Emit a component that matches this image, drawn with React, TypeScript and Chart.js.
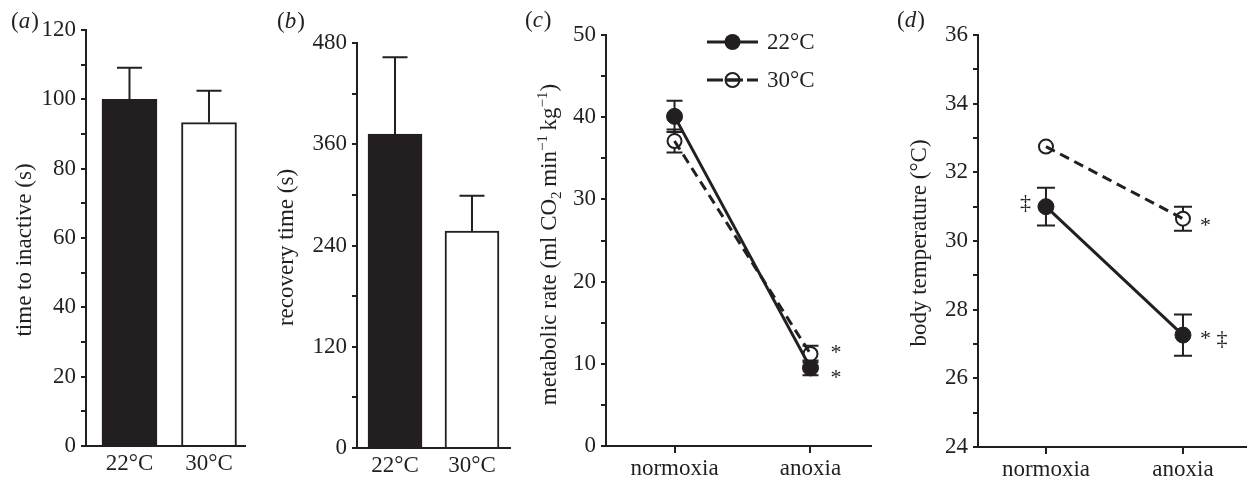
import React, { useEffect, useRef } from 'react';
import { Chart, registerables } from 'chart.js';

Chart.register(...registerables);

const FONT = "'Liberation Serif', 'Times New Roman', Times, serif";
const INK = '#231f20';
const FS = 23;

// ---------------- data ----------------
const temperatureLabels = ['22°C', '30°C'];
const conditionLabels = ['normoxia', 'anoxia'];
const seriesNames = ['22°C', '30°C'];

// (a) time to inactive (s)
const timeToInactive = [100, 93.3];
const timeToInactiveSE = [9.1, 9.2];
// (b) recovery time (s)
const recoveryTime = [372, 257];
const recoveryTimeSE = [91, 42];
// (c) metabolic rate
const metabolic22 = [40.1, 9.5];
const metabolic22SE = [1.9, 0.9];
const metabolic30 = [37.1, 11.2];
const metabolic30SE = [1.4, 1.0];
const metabolic22Marks = ['', '*'];
const metabolic30Marks = ['', '*'];
// (d) body temperature
const bodyTemp22 = [31.0, 27.26];
const bodyTemp22SE = [0.55, 0.6];
const bodyTemp30 = [32.75, 30.65];
const bodyTemp30SE = [0, 0.35];
const bodyTemp22MarksLeft = ['‡', ''];
const bodyTemp22Marks = ['', '* ‡'];
const bodyTemp30Marks = ['', '*'];

// y tick labels (minor ticks in between)
const yTicksA = [0, 20, 40, 60, 80, 100, 120];
const yTicksB = [0, 120, 240, 360, 480];
const yTicksC = [0, 10, 20, 30, 40, 50];
const yTicksD = [24, 26, 28, 30, 32, 34, 36];

// ---------------- helpers ----------------
type Seg = { t: string; k?: 'sub' | 'sup' };
const toXY = (vals: number[]) => vals.map((y, x) => ({ x, y }));

function segFont(s: Seg) {
  return `${s.k ? 15 : FS}px ${FONT}`;
}

function drawRotated(ctx: CanvasRenderingContext2D, segs: Seg[], cx: number, cy: number) {
  let total = 0;
  for (const s of segs) {
    ctx.font = segFont(s);
    total += ctx.measureText(s.t).width;
  }
  ctx.save();
  ctx.translate(cx, cy);
  ctx.rotate(-Math.PI / 2);
  ctx.textAlign = 'left';
  ctx.textBaseline = 'alphabetic';
  ctx.fillStyle = INK;
  let x = -total / 2;
  for (const s of segs) {
    ctx.font = segFont(s);
    const dy = s.k === 'sub' ? 5 : s.k === 'sup' ? -9 : 0;
    ctx.fillText(s.t, x, dy);
    x += ctx.measureText(s.t).width;
  }
  ctx.restore();
}

function errorPlugin(p: any) {
  return {
    id: 'errorBars',
    beforeDatasetsDraw(chart: any) {
      const ctx = chart.ctx;
      const ys = chart.scales.y;
      ctx.save();
      ctx.strokeStyle = INK;
      ctx.lineWidth = 2;
      for (const s of p.errors) {
        const meta = chart.getDatasetMeta(s.dataset);
        meta.data.forEach((el: any, i: number) => {
          const err = s.errors[i];
          if (!err) return;
          const v = s.values[i];
          const top = ys.getPixelForValue(v + err);
          const bot = ys.getPixelForValue(s.upOnly ? v : v - err);
          const h = s.cap / 2;
          ctx.beginPath();
          ctx.moveTo(el.x, top);
          ctx.lineTo(el.x, bot);
          ctx.moveTo(el.x - h, top);
          ctx.lineTo(el.x + h, top);
          if (!s.upOnly) {
            ctx.moveTo(el.x - h, bot);
            ctx.lineTo(el.x + h, bot);
          }
          ctx.stroke();
        });
      }
      ctx.restore();
    },
  };
}

function decorPlugin(p: any) {
  return {
    id: 'decor',
    afterDraw(chart: any) {
      const ctx = chart.ctx as CanvasRenderingContext2D;
      const a = chart.chartArea;
      ctx.save();
      ctx.fillStyle = INK;
      // panel letter
      ctx.textAlign = 'left';
      ctx.textBaseline = 'alphabetic';
      let lx = p.letterX;
      const parts: [string, boolean][] = [['(', false], [p.letter, true], [')', false]];
      for (const [t, it] of parts) {
        ctx.font = `${it ? 'italic ' : ''}${FS}px ${FONT}`;
        ctx.fillText(t, lx, p.letterY);
        lx += ctx.measureText(t).width + (it ? 1 : 0);
      }
      // y title
      drawRotated(ctx, p.title, a.left + p.titleDx, (a.top + a.bottom) / 2 + p.titleDy);
      // significance marks
      ctx.font = `22px ${FONT}`;
      for (const m of p.marks) {
        const meta = chart.getDatasetMeta(m.dataset);
        meta.data.forEach((el: any, i: number) => {
          const t = m.marks[i];
          if (!t) return;
          ctx.textAlign = m.align;
          ctx.textBaseline = 'alphabetic';
          ctx.fillText(t, el.x + m.dx, el.y + m.dy);
        });
      }
      // legend
      if (p.legend) {
        p.legend.forEach((it: any, i: number) => {
          const y = a.top + p.legend.y0 + i * p.legend.gap;
          const x0 = a.left + p.legend.x0;
          const x1 = x0 + p.legend.len;
          ctx.save();
          ctx.strokeStyle = INK;
          ctx.lineWidth = 3;
          ctx.setLineDash(it.dash);
          ctx.beginPath();
          ctx.moveTo(x0, y);
          ctx.lineTo(x1, y);
          ctx.stroke();
          ctx.setLineDash([]);
          ctx.beginPath();
          const cx = (x0 + x1) / 2;
          if (it.filled) {
            ctx.arc(cx, y, 8, 0, Math.PI * 2);
            ctx.fillStyle = INK;
            ctx.fill();
          } else {
            ctx.arc(cx, y, 7, 0, Math.PI * 2);
            ctx.lineWidth = 2;
            ctx.stroke();
            ctx.beginPath();
            ctx.lineWidth = 3;
            ctx.moveTo(cx - 7, y);
            ctx.lineTo(cx + 7, y);
            ctx.stroke();
          }
          ctx.restore();
          ctx.font = `${FS}px ${FONT}`;
          ctx.textAlign = 'left';
          ctx.textBaseline = 'alphabetic';
          ctx.fillStyle = INK;
          ctx.fillText(it.label, x1 + 9, y + 7);
        });
      }
      ctx.restore();
    },
  };
}

function buildConfig(p: any) {
  return {
    type: p.type,
    data: { datasets: p.datasets },
    options: {
      responsive: false,
      animation: false,
      events: [],
      devicePixelRatio: 1,
      layout: { padding: { top: p.padTop, right: p.padRight, left: 0, bottom: 0 } },
      plugins: { legend: { display: false }, tooltip: { enabled: false } },
      scales: {
        x: {
          type: 'linear',
          min: p.xMin,
          max: p.xMax,
          offset: false,
          afterFit: (s: any) => {
            s.height = p.xHeight;
          },
          afterBuildTicks: (s: any) => {
            s.ticks = p.xLabels.map((_: string, i: number) => ({ value: i }));
          },
          ticks: {
            callback: (v: number) => p.xLabels[Math.round(v)] ?? '',
            autoSkip: false,
            maxRotation: 0,
            minRotation: 0,
            padding: p.xPad,
            color: INK,
            font: { family: FONT, size: FS },
          },
          grid: {
            display: true,
            offset: false,
            drawOnChartArea: false,
            drawTicks: p.xTicks,
            tickLength: 7,
            color: INK,
            lineWidth: 2,
          },
          border: { display: true, color: INK, width: 2 },
        },
        y: {
          min: p.yMin,
          max: p.yMax,
          afterFit: (s: any) => {
            s.width = p.yWidth;
          },
          ticks: {
            stepSize: p.yStep,
            maxTicksLimit: 100,
            autoSkip: false,
            callback: (v: number) =>
              p.yLabels.some((l: number) => Math.abs(l - v) < 1e-6) ? String(Math.round(v)) : '',
            padding: 5,
            color: INK,
            font: { family: FONT, size: FS },
          },
          grid: { drawOnChartArea: false, drawTicks: true, tickLength: 5, color: INK, lineWidth: 2 },
          border: { display: true, color: INK, width: 2 },
        },
      },
    },
    plugins: [errorPlugin(p), decorPlugin(p)],
  };
}

function lineDatasets(v22: number[], v30: number[]) {
  return [
    {
      label: seriesNames[0],
      data: toXY(v22),
      showLine: false,
      pointRadius: 8,
      pointBackgroundColor: INK,
      pointBorderColor: INK,
      pointBorderWidth: 1,
      order: 1,
    },
    {
      label: seriesNames[1],
      data: toXY(v30),
      showLine: false,
      pointRadius: 7,
      pointBackgroundColor: '#ffffff',
      pointBorderColor: INK,
      pointBorderWidth: 2,
      order: 2,
    },
    {
      label: seriesNames[0] + ' line',
      data: toXY(v22),
      borderColor: INK,
      borderWidth: 3,
      pointRadius: 0,
      fill: false,
      order: 0,
    },
    {
      label: seriesNames[1] + ' line',
      data: toXY(v30),
      borderColor: INK,
      borderWidth: 3,
      borderDash: [10, 6],
      pointRadius: 0,
      fill: false,
      order: 0,
    },
  ];
}

const panelA = {
  left: 0, width: 258,
  letter: 'a', letterX: 11, letterY: 28,
  title: [{ t: 'time to inactive (s)' }], titleDx: -55, titleDy: 12,
  padTop: 30, padRight: 13, yWidth: 86, xHeight: 35,
  xMin: -0.547, xMax: 1.453, xLabels: temperatureLabels, xTicks: false, xPad: 4,
  yMin: 0, yMax: 120, yStep: 10, yLabels: yTicksA,
  type: 'bar',
  datasets: [
    {
      data: toXY(timeToInactive),
      backgroundColor: [INK, '#ffffff'],
      borderColor: INK,
      borderWidth: 2,
      barThickness: 55,
    },
  ],
  errors: [{ dataset: 0, values: timeToInactive, errors: timeToInactiveSE, upOnly: true, cap: 25 }],
  marks: [],
};

const panelB = {
  left: 258, width: 262,
  letter: 'b', letterX: 19, letterY: 28,
  title: [{ t: 'recovery time (s)' }], titleDx: -64, titleDy: 2,
  padTop: 43, padRight: 10, yWidth: 99, xHeight: 33,
  xMin: -0.494, xMax: 1.494, xLabels: temperatureLabels, xTicks: false, xPad: 4,
  yMin: 0, yMax: 480, yStep: 60, yLabels: yTicksB,
  type: 'bar',
  datasets: [
    {
      data: toXY(recoveryTime),
      backgroundColor: [INK, '#ffffff'],
      borderColor: INK,
      borderWidth: 2,
      barThickness: 54,
    },
  ],
  errors: [{ dataset: 0, values: recoveryTime, errors: recoveryTimeSE, upOnly: true, cap: 25 }],
  marks: [],
};

const panelC: any = {
  left: 520, width: 360,
  letter: 'c', letterX: 5, letterY: 27,
  title: [
    { t: 'metabolic rate (ml CO' },
    { t: '2', k: 'sub' },
    { t: '\u2009min' },
    { t: '\u22121', k: 'sup' },
    { t: '\u2009kg' },
    { t: '\u22121', k: 'sup' },
    { t: ')' },
  ],
  titleDx: -50, titleDy: 4,
  padTop: 35, padRight: 7, yWidth: 86, xHeight: 35,
  xMin: -0.504, xMax: 1.445, xLabels: conditionLabels, xTicks: true, xPad: 2,
  yMin: 0, yMax: 50, yStep: 5, yLabels: yTicksC,
  type: 'line',
  datasets: lineDatasets(metabolic22, metabolic30),
  errors: [
    { dataset: 1, values: metabolic30, errors: metabolic30SE, upOnly: false, cap: 16 },
    { dataset: 0, values: metabolic22, errors: metabolic22SE, upOnly: false, cap: 16 },
  ],
  marks: [
    { dataset: 1, marks: metabolic30Marks, dx: 20, dy: 5, align: 'left' },
    { dataset: 0, marks: metabolic22Marks, dx: 20, dy: 16, align: 'left' },
  ],
};
const legendC: any = [
  { label: seriesNames[0], dash: [], filled: true },
  { label: seriesNames[1], dash: [16, 4], filled: false },
];
legendC.x0 = 101;
legendC.len = 51;
legendC.y0 = 7;
legendC.gap = 38;
panelC.legend = legendC;

const panelD = {
  left: 880, width: 375,
  letter: 'd', letterX: 17, letterY: 27,
  title: [{ t: 'body temperature (°C)' }], titleDx: -52, titleDy: 2,
  padTop: 35, padRight: 5, yWidth: 98, xHeight: 34,
  xMin: -0.496, xMax: 1.46, xLabels: conditionLabels, xTicks: true, xPad: 2,
  yMin: 24, yMax: 36, yStep: 1, yLabels: yTicksD,
  type: 'line',
  datasets: lineDatasets(bodyTemp22, bodyTemp30),
  errors: [
    { dataset: 1, values: bodyTemp30, errors: bodyTemp30SE, upOnly: false, cap: 18 },
    { dataset: 0, values: bodyTemp22, errors: bodyTemp22SE, upOnly: false, cap: 18 },
  ],
  marks: [
    { dataset: 0, marks: bodyTemp22MarksLeft, dx: -15, dy: 2, align: 'right' },
    { dataset: 0, marks: bodyTemp22Marks, dx: 17, dy: 10, align: 'left' },
    { dataset: 1, marks: bodyTemp30Marks, dx: 17, dy: 13, align: 'left' },
  ],
};

function Panel({ cfg }: { cfg: any }) {
  const ref = useRef<HTMLCanvasElement>(null);
  useEffect(() => {
    const chart = new Chart(ref.current as HTMLCanvasElement, buildConfig(cfg) as any);
    return () => chart.destroy();
  }, [cfg]);
  return (
    <canvas
      ref={ref}
      width={cfg.width}
      height={481}
      style={{ position: 'absolute', left: cfg.left, top: 0, width: cfg.width, height: 481 }}
    />
  );
}

export default function App() {
  return (
    <div
      style={{
        position: 'fixed',
        left: 0,
        top: 0,
        width: 1255,
        height: 481,
        background: '#ffffff',
        overflow: 'hidden',
      }}
    >
      <Panel cfg={panelA} />
      <Panel cfg={panelB} />
      <Panel cfg={panelC} />
      <Panel cfg={panelD} />
    </div>
  );
}
